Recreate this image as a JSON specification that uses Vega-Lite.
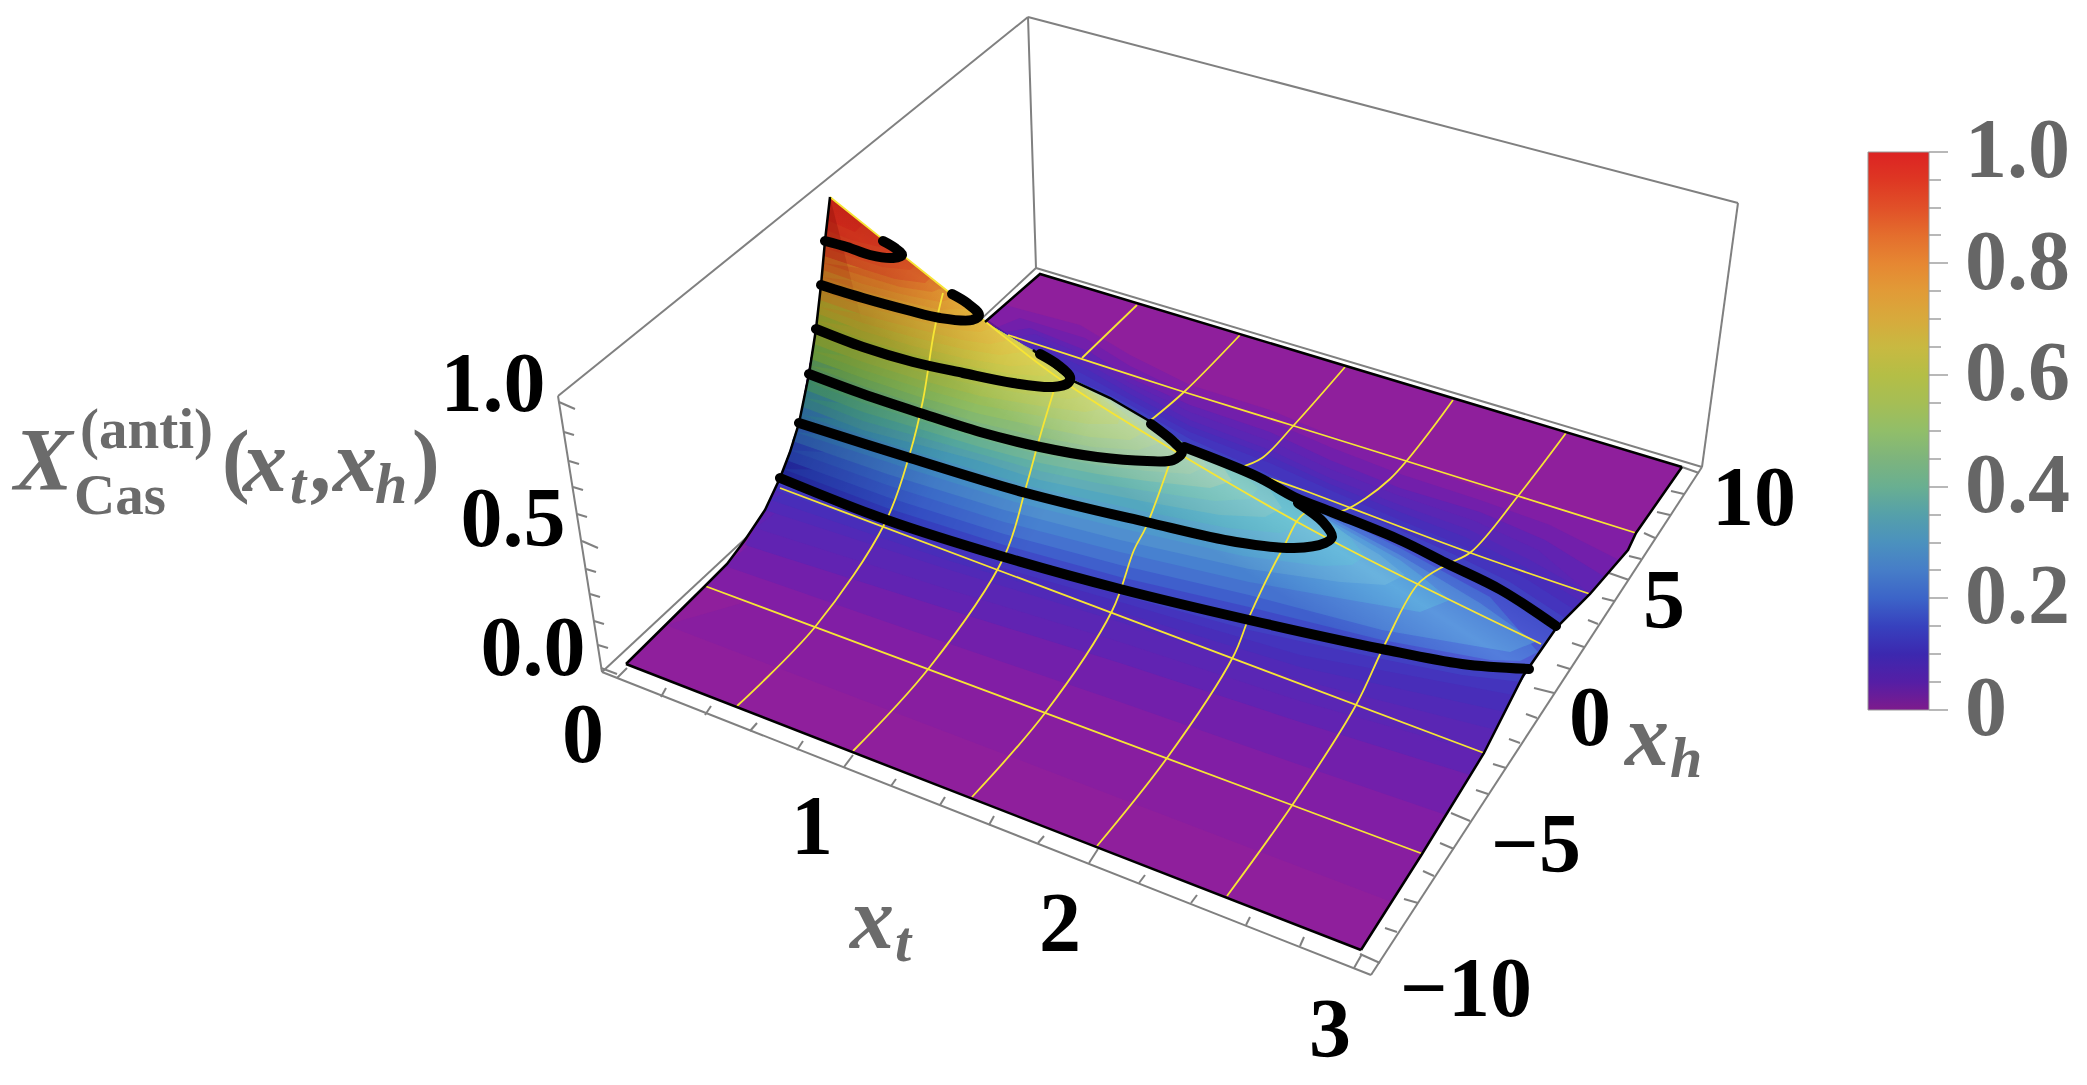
{
"$schema":"https://vega.github.io/schema/vega-lite/v6.json",
"width":2087,"height":1085,"padding":0,"autosize":{"type":"none"},"background":"white",
"config":{"view":{"stroke":null}},
"datasets":{
"box":[{"x":558,"y":396,"x2":1028,"y2":17},{"x":1028,"y":17,"x2":1738,"y2":203},{"x":1738,"y":203,"x2":1702,"y2":467},{"x":1028,"y":17,"x2":1036,"y2":268},{"x":1036,"y":268,"x2":1702,"y2":467},{"x":1702,"y":467,"x2":1371,"y2":975},{"x":1371,"y":975,"x2":602,"y2":672},{"x":602,"y":672,"x2":558,"y2":396},{"x":602,"y":672,"x2":1036,"y2":268},
{"x":559,"y":402,"x2":575,"y2":409},{"x":564,"y":432,"x2":574,"y2":435},{"x":569,"y":461,"x2":579,"y2":464},{"x":573,"y":487,"x2":583,"y2":490},{"x":577,"y":514,"x2":587,"y2":517},{"x":582,"y":541,"x2":598,"y2":548},{"x":586,"y":569,"x2":596,"y2":572},{"x":590,"y":594,"x2":600,"y2":597},{"x":594,"y":621,"x2":604,"y2":624},{"x":598,"y":645,"x2":608,"y2":648},{"x":601,"y":668,"x2":617,"y2":674},
{"x":617,"y":678,"x2":627,"y2":668},{"x":661,"y":697,"x2":666,"y2":688},{"x":705,"y":715,"x2":711,"y2":706},{"x":750,"y":731,"x2":757,"y2":723},{"x":797,"y":750,"x2":803,"y2":741},{"x":844,"y":767,"x2":853,"y2":755},{"x":891,"y":786,"x2":896,"y2":779},{"x":940,"y":805,"x2":945,"y2":797},{"x":989,"y":825,"x2":994,"y2":816},{"x":1038,"y":843,"x2":1044,"y2":836},{"x":1089,"y":863,"x2":1098,"y2":849},{"x":1139,"y":883,"x2":1145,"y2":875},{"x":1191,"y":903,"x2":1197,"y2":895},{"x":1246,"y":925,"x2":1250,"y2":917},{"x":1300,"y":946,"x2":1304,"y2":937},{"x":1354,"y":968,"x2":1362,"y2":954},
{"x":1380,"y":963,"x2":1360,"y2":954},{"x":1397,"y":932,"x2":1385,"y2":928},{"x":1418,"y":903,"x2":1404,"y2":899},{"x":1434,"y":876,"x2":1423,"y2":871},{"x":1454,"y":849,"x2":1440,"y2":843},{"x":1470,"y":821,"x2":1451,"y2":813},{"x":1488,"y":794,"x2":1476,"y2":790},{"x":1506,"y":768,"x2":1493,"y2":764},{"x":1520,"y":743,"x2":1509,"y2":739},{"x":1537,"y":718,"x2":1526,"y2":714},{"x":1554,"y":693,"x2":1534,"y2":688},{"x":1570,"y":669,"x2":1557,"y2":665},{"x":1584,"y":647,"x2":1572,"y2":643},{"x":1598,"y":624,"x2":1588,"y2":620},{"x":1614,"y":601,"x2":1602,"y2":598},{"x":1629,"y":580,"x2":1609,"y2":573},{"x":1641,"y":559,"x2":1629,"y2":556},{"x":1655,"y":538,"x2":1644,"y2":533},{"x":1670,"y":515,"x2":1657,"y2":512},{"x":1684,"y":494,"x2":1671,"y2":491},{"x":1699,"y":473,"x2":1682,"y2":467}],
"legendTicks":[{"x":1929,"y":152,"x2":1948,"y2":152},{"x":1929,"y":180,"x2":1941,"y2":180},{"x":1929,"y":208,"x2":1941,"y2":208},{"x":1929,"y":235,"x2":1941,"y2":235},{"x":1929,"y":263,"x2":1948,"y2":263},{"x":1929,"y":291,"x2":1941,"y2":291},{"x":1929,"y":319,"x2":1941,"y2":319},{"x":1929,"y":347,"x2":1941,"y2":347},{"x":1929,"y":375,"x2":1948,"y2":375},{"x":1929,"y":403,"x2":1941,"y2":403},{"x":1929,"y":431,"x2":1941,"y2":431},{"x":1929,"y":459,"x2":1941,"y2":459},{"x":1929,"y":487,"x2":1948,"y2":487},{"x":1929,"y":515,"x2":1941,"y2":515},{"x":1929,"y":543,"x2":1941,"y2":543},{"x":1929,"y":570,"x2":1941,"y2":570},{"x":1929,"y":598,"x2":1948,"y2":598},{"x":1929,"y":626,"x2":1941,"y2":626},{"x":1929,"y":654,"x2":1941,"y2":654},{"x":1929,"y":682,"x2":1941,"y2":682},{"x":1929,"y":710,"x2":1948,"y2":710}],
"surface":[
{"z":0,"x":626,"y":664},{"z":0,"x":1361,"y":950},{"z":0,"x":1422,"y":854},{"z":0,"x":1484,"y":753},{"z":0,"x":1523,"y":676},{"z":0,"x":1557,"y":627},{"z":0,"x":1590,"y":594},{"z":0,"x":1628,"y":550},{"z":0,"x":1636,"y":533},{"z":0,"x":1682,"y":467},{"z":0,"x":1040,"y":274},{"z":0,"x":985,"y":322},{"z":0,"x":950,"y":293},{"z":0,"x":880,"y":238},{"z":0,"x":830,"y":197},{"z":0,"x":825,"y":241},{"z":0,"x":816,"y":329},{"z":0,"x":799,"y":423},{"z":0,"x":790,"y":452},{"z":0,"x":780,"y":478},{"z":0,"x":765,"y":510},{"z":0,"x":745,"y":540},{"z":0,"x":727,"y":564},{"z":0,"x":705,"y":586},
{"z":0.01,"x":666,"y":625},{"z":0.01,"x":1392,"y":902},{"z":0.01,"x":1422,"y":854},{"z":0.01,"x":1484,"y":753},{"z":0.01,"x":1100,"y":500},
{"z":0.02,"x":705,"y":586},{"z":0.02,"x":1422,"y":854},{"z":0.02,"x":1484,"y":753},{"z":0.02,"x":1523,"y":676},{"z":0.02,"x":1557,"y":627},{"z":0.02,"x":1590,"y":594},{"z":0.02,"x":1628,"y":550},{"z":0.02,"x":1636,"y":533},{"z":0.02,"x":1560,"y":510},{"z":0.02,"x":1480,"y":488},{"z":0.02,"x":1400,"y":460},{"z":0.02,"x":1330,"y":435},{"z":0.02,"x":1270,"y":410},{"z":0.02,"x":1190,"y":385},{"z":0.02,"x":1130,"y":355},{"z":0.02,"x":1080,"y":325},{"z":0.02,"x":1005,"y":305},{"z":0.02,"x":985,"y":322},{"z":0.02,"x":950,"y":293},{"z":0.02,"x":880,"y":238},{"z":0.02,"x":830,"y":197},{"z":0.02,"x":825,"y":241},{"z":0.02,"x":816,"y":329},{"z":0.02,"x":799,"y":423},{"z":0.02,"x":790,"y":452},{"z":0.02,"x":780,"y":478},{"z":0.02,"x":765,"y":510},{"z":0.02,"x":745,"y":540},{"z":0.02,"x":727,"y":564},
{"z":0.035,"x":725,"y":566},{"z":0.035,"x":950,"y":644},{"z":0.035,"x":1120,"y":702},{"z":0.035,"x":1300,"y":765},{"z":0.035,"x":1446,"y":815},{"z":0.035,"x":1484,"y":753},{"z":0.035,"x":1523,"y":676},{"z":0.035,"x":1557,"y":627},{"z":0.035,"x":1590,"y":594},{"z":0.035,"x":1619,"y":560},{"z":0.035,"x":1550,"y":525},{"z":0.035,"x":1480,"y":500},{"z":0.035,"x":1400,"y":474},{"z":0.035,"x":1330,"y":447},{"z":0.035,"x":1270,"y":421},{"z":0.035,"x":1190,"y":395},{"z":0.035,"x":1130,"y":366},{"z":0.035,"x":1085,"y":338},{"z":0.035,"x":1020,"y":318},{"z":0.035,"x":995,"y":328},
{"z":0.05,"x":745,"y":545},{"z":0.05,"x":950,"y":610},{"z":0.05,"x":1120,"y":663},{"z":0.05,"x":1300,"y":722},{"z":0.05,"x":1470,"y":775},{"z":0.05,"x":1484,"y":753},{"z":0.05,"x":1523,"y":676},{"z":0.05,"x":1557,"y":627},{"z":0.05,"x":1590,"y":594},{"z":0.05,"x":1605,"y":577},{"z":0.05,"x":1545,"y":540},{"z":0.05,"x":1480,"y":512},{"z":0.05,"x":1400,"y":488},{"z":0.05,"x":1330,"y":460},{"z":0.05,"x":1270,"y":432},{"z":0.05,"x":1190,"y":405},{"z":0.05,"x":1130,"y":378},{"z":0.05,"x":1090,"y":352},{"z":0.05,"x":1030,"y":328},{"z":0.05,"x":1005,"y":332},{"z":0.05,"x":985,"y":322},{"z":0.05,"x":950,"y":293},{"z":0.05,"x":880,"y":238},{"z":0.05,"x":830,"y":197},{"z":0.05,"x":825,"y":241},{"z":0.05,"x":816,"y":329},{"z":0.05,"x":799,"y":423},{"z":0.05,"x":790,"y":452},{"z":0.05,"x":780,"y":478},{"z":0.05,"x":765,"y":510},
{"z":0.065,"x":755,"y":528},{"z":0.065,"x":950,"y":590},{"z":0.065,"x":1120,"y":642},{"z":0.065,"x":1300,"y":701},{"z":0.065,"x":1483,"y":753},{"z":0.065,"x":1523,"y":676},{"z":0.065,"x":1557,"y":627},{"z":0.065,"x":1590,"y":594},{"z":0.065,"x":1538,"y":550},{"z":0.065,"x":1475,"y":521},{"z":0.065,"x":1400,"y":496},{"z":0.065,"x":1330,"y":469},{"z":0.065,"x":1270,"y":441},{"z":0.065,"x":1190,"y":412},{"z":0.065,"x":1130,"y":383},{"z":0.065,"x":1088,"y":357},{"z":0.065,"x":1035,"y":334},{"z":0.065,"x":1012,"y":338},
{"z":0.08,"x":765,"y":510},{"z":0.08,"x":950,"y":570},{"z":0.08,"x":1120,"y":622},{"z":0.08,"x":1300,"y":680},{"z":0.08,"x":1496,"y":730},{"z":0.08,"x":1523,"y":676},{"z":0.08,"x":1557,"y":627},{"z":0.08,"x":1590,"y":594},{"z":0.08,"x":1530,"y":560},{"z":0.08,"x":1470,"y":530},{"z":0.08,"x":1400,"y":505},{"z":0.08,"x":1330,"y":478},{"z":0.08,"x":1270,"y":450},{"z":0.08,"x":1190,"y":420},{"z":0.08,"x":1130,"y":388},{"z":0.08,"x":1085,"y":362},{"z":0.08,"x":1040,"y":340},{"z":0.08,"x":1020,"y":343},{"z":0.08,"x":985,"y":322},{"z":0.08,"x":950,"y":293},{"z":0.08,"x":880,"y":238},{"z":0.08,"x":830,"y":197},{"z":0.08,"x":825,"y":241},{"z":0.08,"x":816,"y":329},{"z":0.08,"x":799,"y":423},{"z":0.08,"x":790,"y":452},{"z":0.08,"x":780,"y":478},
{"z":0.095,"x":771,"y":500},{"z":0.095,"x":950,"y":561},{"z":0.095,"x":1120,"y":612},{"z":0.095,"x":1300,"y":667},{"z":0.095,"x":1505,"y":712},{"z":0.095,"x":1523,"y":676},{"z":0.095,"x":1557,"y":627},{"z":0.095,"x":1582,"y":602},{"z":0.095,"x":1525,"y":567},{"z":0.095,"x":1465,"y":537},{"z":0.095,"x":1400,"y":512},{"z":0.095,"x":1330,"y":484},{"z":0.095,"x":1270,"y":456},{"z":0.095,"x":1190,"y":426},{"z":0.095,"x":1130,"y":394},{"z":0.095,"x":1085,"y":368},{"z":0.095,"x":1045,"y":349},{"z":0.095,"x":1025,"y":346},
{"z":0.11,"x":775,"y":490},{"z":0.11,"x":950,"y":553},{"z":0.11,"x":1120,"y":602},{"z":0.11,"x":1300,"y":655},{"z":0.11,"x":1513,"y":695},{"z":0.11,"x":1523,"y":676},{"z":0.11,"x":1557,"y":627},{"z":0.11,"x":1575,"y":610},{"z":0.11,"x":1520,"y":575},{"z":0.11,"x":1460,"y":545},{"z":0.11,"x":1400,"y":520},{"z":0.11,"x":1330,"y":490},{"z":0.11,"x":1270,"y":463},{"z":0.11,"x":1190,"y":432},{"z":0.11,"x":1130,"y":400},{"z":0.11,"x":1085,"y":375},{"z":0.11,"x":1050,"y":358},{"z":0.11,"x":1020,"y":343},{"z":0.11,"x":985,"y":322},{"z":0.11,"x":950,"y":293},{"z":0.11,"x":880,"y":238},{"z":0.11,"x":830,"y":197},{"z":0.11,"x":825,"y":241},{"z":0.11,"x":816,"y":329},{"z":0.11,"x":809,"y":374},{"z":0.11,"x":799,"y":423},{"z":0.11,"x":785,"y":470},
{"z":0.13,"x":778,"y":484},{"z":0.13,"x":887,"y":526},{"z":0.13,"x":1004,"y":563},{"z":0.13,"x":1120,"y":595},{"z":0.13,"x":1249,"y":630},{"z":0.13,"x":1382,"y":659},{"z":0.13,"x":1462,"y":675},{"z":0.13,"x":1521,"y":682},{"z":0.13,"x":1543,"y":646},{"z":0.13,"x":1565,"y":618},{"z":0.13,"x":1510,"y":582},{"z":0.13,"x":1453,"y":554},{"z":0.13,"x":1400,"y":530},{"z":0.13,"x":1332,"y":501},{"z":0.13,"x":1282,"y":480},{"z":0.13,"x":1190,"y":439},{"z":0.13,"x":1130,"y":405},{"z":0.13,"x":1100,"y":390},{"z":0.13,"x":1070,"y":378},
{"z":0.15,"x":780,"y":478},{"z":0.15,"x":887,"y":520},{"z":0.15,"x":1004,"y":557},{"z":0.15,"x":1120,"y":589},{"z":0.15,"x":1249,"y":620},{"z":0.15,"x":1382,"y":649},{"z":0.15,"x":1462,"y":664},{"z":0.15,"x":1529,"y":669},{"z":0.15,"x":1543,"y":646},{"z":0.15,"x":1556,"y":626},{"z":0.15,"x":1501,"y":590},{"z":0.15,"x":1446,"y":563},{"z":0.15,"x":1400,"y":540},{"z":0.15,"x":1334,"y":513},{"z":0.15,"x":1294,"y":497},{"z":0.15,"x":1258,"y":477},{"z":0.15,"x":1184,"y":447},{"z":0.15,"x":1151,"y":422},{"z":0.15,"x":1110,"y":398},{"z":0.15,"x":1070,"y":378},{"z":0.15,"x":1020,"y":343},{"z":0.15,"x":985,"y":322},{"z":0.15,"x":950,"y":293},{"z":0.15,"x":880,"y":238},{"z":0.15,"x":830,"y":197},{"z":0.15,"x":825,"y":241},{"z":0.15,"x":816,"y":329},{"z":0.15,"x":809,"y":374},{"z":0.15,"x":799,"y":423},
{"z":0.175,"x":783,"y":469},{"z":0.175,"x":887,"y":508},{"z":0.175,"x":1004,"y":545},{"z":0.175,"x":1120,"y":577},{"z":0.175,"x":1249,"y":607},{"z":0.175,"x":1382,"y":640},{"z":0.175,"x":1490,"y":660},{"z":0.175,"x":1520,"y":661},{"z":0.175,"x":1538,"y":652},{"z":0.175,"x":1490,"y":597},{"z":0.175,"x":1400,"y":548},{"z":0.175,"x":1334,"y":516},{"z":0.175,"x":1294,"y":498},{"z":0.175,"x":1258,"y":477},
{"z":0.2,"x":786,"y":460},{"z":0.2,"x":887,"y":497},{"z":0.2,"x":1004,"y":534},{"z":0.2,"x":1120,"y":565},{"z":0.2,"x":1249,"y":595},{"z":0.2,"x":1382,"y":630},{"z":0.2,"x":1510,"y":652},{"z":0.2,"x":1535,"y":642},{"z":0.2,"x":1480,"y":603},{"z":0.2,"x":1400,"y":555},{"z":0.2,"x":1334,"y":520},{"z":0.2,"x":1294,"y":500},{"z":0.2,"x":1258,"y":477},{"z":0.2,"x":1184,"y":447},{"z":0.2,"x":1151,"y":422},{"z":0.2,"x":1110,"y":398},{"z":0.2,"x":1070,"y":378},{"z":0.2,"x":1020,"y":343},{"z":0.2,"x":985,"y":322},{"z":0.2,"x":950,"y":293},{"z":0.2,"x":880,"y":238},{"z":0.2,"x":830,"y":197},{"z":0.2,"x":825,"y":241},{"z":0.2,"x":816,"y":329},{"z":0.2,"x":809,"y":374},{"z":0.2,"x":799,"y":423},{"z":0.2,"x":790,"y":452},
{"z":0.225,"x":789,"y":450},{"z":0.225,"x":887,"y":485},{"z":0.225,"x":1004,"y":522},{"z":0.225,"x":1120,"y":552},{"z":0.225,"x":1249,"y":582},{"z":0.225,"x":1350,"y":600},{"z":0.225,"x":1420,"y":612},{"z":0.225,"x":1450,"y":600},{"z":0.225,"x":1420,"y":575},{"z":0.225,"x":1400,"y":560},{"z":0.225,"x":1334,"y":523},{"z":0.225,"x":1294,"y":501},{"z":0.225,"x":1258,"y":477},
{"z":0.25,"x":792,"y":441},{"z":0.25,"x":887,"y":474},{"z":0.25,"x":1004,"y":510},{"z":0.25,"x":1120,"y":540},{"z":0.25,"x":1249,"y":569},{"z":0.25,"x":1340,"y":582},{"z":0.25,"x":1385,"y":585},{"z":0.25,"x":1405,"y":575},{"z":0.25,"x":1380,"y":555},{"z":0.25,"x":1334,"y":527},{"z":0.25,"x":1294,"y":503},{"z":0.25,"x":1258,"y":477},{"z":0.25,"x":1184,"y":447},{"z":0.25,"x":1151,"y":422},{"z":0.25,"x":1110,"y":398},{"z":0.25,"x":1070,"y":378},{"z":0.25,"x":1020,"y":343},{"z":0.25,"x":985,"y":322},{"z":0.25,"x":950,"y":293},{"z":0.25,"x":880,"y":238},{"z":0.25,"x":830,"y":197},{"z":0.25,"x":825,"y":241},{"z":0.25,"x":816,"y":329},{"z":0.25,"x":809,"y":374},{"z":0.25,"x":799,"y":423},
{"z":0.275,"x":795,"y":432},{"z":0.275,"x":900,"y":466},{"z":0.275,"x":1015,"y":502},{"z":0.275,"x":1133,"y":531},{"z":0.275,"x":1243,"y":556},{"z":0.275,"x":1322,"y":566},{"z":0.275,"x":1352,"y":565},{"z":0.275,"x":1365,"y":556},{"z":0.275,"x":1350,"y":537},{"z":0.275,"x":1320,"y":515},{"z":0.275,"x":1294,"y":500},{"z":0.275,"x":1258,"y":477},
{"z":0.3,"x":799,"y":423},{"z":0.3,"x":910,"y":458},{"z":0.3,"x":1026,"y":493},{"z":0.3,"x":1146,"y":522},{"z":0.3,"x":1236,"y":542},{"z":0.3,"x":1294,"y":548},{"z":0.3,"x":1325,"y":543},{"z":0.3,"x":1332,"y":537},{"z":0.3,"x":1323,"y":522},{"z":0.3,"x":1298,"y":503},{"z":0.3,"x":1258,"y":477},{"z":0.3,"x":1184,"y":447},{"z":0.3,"x":1151,"y":422},{"z":0.3,"x":1110,"y":398},{"z":0.3,"x":1070,"y":378},{"z":0.3,"x":1020,"y":343},{"z":0.3,"x":985,"y":322},{"z":0.3,"x":950,"y":293},{"z":0.3,"x":880,"y":238},{"z":0.3,"x":830,"y":197},{"z":0.3,"x":825,"y":241},{"z":0.3,"x":816,"y":329},{"z":0.3,"x":809,"y":374},
{"z":0.325,"x":801,"y":415},{"z":0.325,"x":915,"y":452},{"z":0.325,"x":1033,"y":487},{"z":0.325,"x":1147,"y":512},{"z":0.325,"x":1228,"y":528},{"z":0.325,"x":1280,"y":533},{"z":0.325,"x":1307,"y":523},{"z":0.325,"x":1297,"y":506},{"z":0.325,"x":1270,"y":483},{"z":0.325,"x":1250,"y":474},
{"z":0.35,"x":803,"y":407},{"z":0.35,"x":863,"y":430},{"z":0.35,"x":920,"y":445},{"z":0.35,"x":980,"y":461},{"z":0.35,"x":1040,"y":480},{"z":0.35,"x":1097,"y":492},{"z":0.35,"x":1147,"y":502},{"z":0.35,"x":1220,"y":515},{"z":0.35,"x":1265,"y":517},{"z":0.35,"x":1282,"y":508},{"z":0.35,"x":1270,"y":490},{"z":0.35,"x":1240,"y":470},{"z":0.35,"x":1184,"y":447},{"z":0.35,"x":1151,"y":422},{"z":0.35,"x":1110,"y":398},{"z":0.35,"x":1070,"y":378},{"z":0.35,"x":1020,"y":343},{"z":0.35,"x":985,"y":322},{"z":0.35,"x":950,"y":293},{"z":0.35,"x":880,"y":238},{"z":0.35,"x":830,"y":197},{"z":0.35,"x":825,"y":241},{"z":0.35,"x":816,"y":329},{"z":0.35,"x":809,"y":374},
{"z":0.375,"x":805,"y":398},{"z":0.375,"x":863,"y":421},{"z":0.375,"x":920,"y":437},{"z":0.375,"x":980,"y":454},{"z":0.375,"x":1040,"y":471},{"z":0.375,"x":1097,"y":483},{"z":0.375,"x":1147,"y":491},{"z":0.375,"x":1215,"y":501},{"z":0.375,"x":1250,"y":499},{"z":0.375,"x":1258,"y":488},{"z":0.375,"x":1246,"y":477},{"z":0.375,"x":1220,"y":460},
{"z":0.4,"x":806,"y":390},{"z":0.4,"x":863,"y":412},{"z":0.4,"x":920,"y":429},{"z":0.4,"x":980,"y":447},{"z":0.4,"x":1040,"y":463},{"z":0.4,"x":1097,"y":474},{"z":0.4,"x":1147,"y":481},{"z":0.4,"x":1210,"y":488},{"z":0.4,"x":1232,"y":481},{"z":0.4,"x":1222,"y":465},{"z":0.4,"x":1195,"y":452},{"z":0.4,"x":1151,"y":422},{"z":0.4,"x":1110,"y":398},{"z":0.4,"x":1070,"y":378},{"z":0.4,"x":1020,"y":343},{"z":0.4,"x":985,"y":322},{"z":0.4,"x":950,"y":293},{"z":0.4,"x":880,"y":238},{"z":0.4,"x":830,"y":197},{"z":0.4,"x":825,"y":241},{"z":0.4,"x":816,"y":329},{"z":0.4,"x":809,"y":374},
{"z":0.425,"x":808,"y":382},{"z":0.425,"x":863,"y":403},{"z":0.425,"x":920,"y":421},{"z":0.425,"x":980,"y":439},{"z":0.425,"x":1040,"y":455},{"z":0.425,"x":1097,"y":465},{"z":0.425,"x":1147,"y":471},{"z":0.425,"x":1190,"y":474},{"z":0.425,"x":1207,"y":466},{"z":0.425,"x":1198,"y":454},{"z":0.425,"x":1173,"y":435},
{"z":0.45,"x":809,"y":374},{"z":0.45,"x":863,"y":394},{"z":0.45,"x":920,"y":413},{"z":0.45,"x":980,"y":432},{"z":0.45,"x":1040,"y":447},{"z":0.45,"x":1097,"y":457},{"z":0.45,"x":1147,"y":461},{"z":0.45,"x":1173,"y":460},{"z":0.45,"x":1182,"y":452},{"z":0.45,"x":1175,"y":443},{"z":0.45,"x":1151,"y":422},{"z":0.45,"x":1110,"y":398},{"z":0.45,"x":1070,"y":378},{"z":0.45,"x":1020,"y":343},{"z":0.45,"x":985,"y":322},{"z":0.45,"x":950,"y":293},{"z":0.45,"x":880,"y":238},{"z":0.45,"x":830,"y":197},{"z":0.45,"x":825,"y":241},{"z":0.45,"x":816,"y":329},
{"z":0.475,"x":810,"y":366},{"z":0.475,"x":863,"y":386},{"z":0.475,"x":920,"y":405},{"z":0.475,"x":980,"y":423},{"z":0.475,"x":1040,"y":437},{"z":0.475,"x":1093,"y":447},{"z":0.475,"x":1138,"y":450},{"z":0.475,"x":1163,"y":442},{"z":0.475,"x":1152,"y":430},{"z":0.475,"x":1128,"y":410},
{"z":0.5,"x":811,"y":359},{"z":0.5,"x":863,"y":378},{"z":0.5,"x":920,"y":397},{"z":0.5,"x":980,"y":414},{"z":0.5,"x":1040,"y":427},{"z":0.5,"x":1090,"y":437},{"z":0.5,"x":1130,"y":440},{"z":0.5,"x":1145,"y":432},{"z":0.5,"x":1130,"y":418},{"z":0.5,"x":1105,"y":397},{"z":0.5,"x":1070,"y":378},{"z":0.5,"x":1020,"y":343},{"z":0.5,"x":985,"y":322},{"z":0.5,"x":950,"y":293},{"z":0.5,"x":880,"y":238},{"z":0.5,"x":830,"y":197},{"z":0.5,"x":825,"y":241},{"z":0.5,"x":821,"y":285},{"z":0.5,"x":816,"y":329},
{"z":0.525,"x":812,"y":351},{"z":0.525,"x":863,"y":370},{"z":0.525,"x":920,"y":388},{"z":0.525,"x":980,"y":405},{"z":0.525,"x":1040,"y":416},{"z":0.525,"x":1088,"y":424},{"z":0.525,"x":1118,"y":424},{"z":0.525,"x":1120,"y":414},{"z":0.525,"x":1100,"y":396},
{"z":0.55,"x":814,"y":344},{"z":0.55,"x":863,"y":362},{"z":0.55,"x":920,"y":380},{"z":0.55,"x":980,"y":396},{"z":0.55,"x":1040,"y":406},{"z":0.55,"x":1085,"y":412},{"z":0.55,"x":1105,"y":408},{"z":0.55,"x":1095,"y":395},{"z":0.55,"x":1070,"y":378},{"z":0.55,"x":1020,"y":343},{"z":0.55,"x":985,"y":322},{"z":0.55,"x":950,"y":293},{"z":0.55,"x":880,"y":238},{"z":0.55,"x":830,"y":197},{"z":0.55,"x":825,"y":241},{"z":0.55,"x":821,"y":285},
{"z":0.575,"x":815,"y":336},{"z":0.575,"x":863,"y":354},{"z":0.575,"x":916,"y":371},{"z":0.575,"x":971,"y":384},{"z":0.575,"x":1026,"y":394},{"z":0.575,"x":1069,"y":399},{"z":0.575,"x":1087,"y":395},{"z":0.575,"x":1082,"y":385},{"z":0.575,"x":1060,"y":371},
{"z":0.6,"x":816,"y":329},{"z":0.6,"x":863,"y":347},{"z":0.6,"x":913,"y":362},{"z":0.6,"x":963,"y":373},{"z":0.6,"x":1013,"y":383},{"z":0.6,"x":1053,"y":387},{"z":0.6,"x":1068,"y":383},{"z":0.6,"x":1070,"y":377},{"z":0.6,"x":1058,"y":365},{"z":0.6,"x":1033,"y":350},{"z":0.6,"x":1020,"y":343},{"z":0.6,"x":985,"y":322},{"z":0.6,"x":950,"y":293},{"z":0.6,"x":880,"y":238},{"z":0.6,"x":830,"y":197},{"z":0.6,"x":825,"y":241},{"z":0.6,"x":821,"y":285},
{"z":0.625,"x":817,"y":321},{"z":0.625,"x":863,"y":339},{"z":0.625,"x":913,"y":354},{"z":0.625,"x":963,"y":365},{"z":0.625,"x":1011,"y":374},{"z":0.625,"x":1044,"y":376},{"z":0.625,"x":1054,"y":370},{"z":0.625,"x":1040,"y":358},
{"z":0.65,"x":819,"y":314},{"z":0.65,"x":863,"y":331},{"z":0.65,"x":913,"y":346},{"z":0.65,"x":963,"y":358},{"z":0.65,"x":1010,"y":366},{"z":0.65,"x":1035,"y":365},{"z":0.65,"x":1040,"y":358},{"z":0.65,"x":1020,"y":343},{"z":0.65,"x":985,"y":322},{"z":0.65,"x":950,"y":293},{"z":0.65,"x":880,"y":238},{"z":0.65,"x":830,"y":197},{"z":0.65,"x":825,"y":241},{"z":0.65,"x":821,"y":285},
{"z":0.675,"x":819,"y":307},{"z":0.675,"x":863,"y":323},{"z":0.675,"x":913,"y":337},{"z":0.675,"x":963,"y":349},{"z":0.675,"x":1000,"y":355},{"z":0.675,"x":1022,"y":352},{"z":0.675,"x":1012,"y":340},
{"z":0.7,"x":820,"y":300},{"z":0.7,"x":863,"y":315},{"z":0.7,"x":913,"y":328},{"z":0.7,"x":963,"y":340},{"z":0.7,"x":990,"y":344},{"z":0.7,"x":1010,"y":340},{"z":0.7,"x":985,"y":322},{"z":0.7,"x":950,"y":293},{"z":0.7,"x":880,"y":238},{"z":0.7,"x":830,"y":197},{"z":0.7,"x":825,"y":241},
{"z":0.725,"x":820,"y":292},{"z":0.725,"x":863,"y":306},{"z":0.725,"x":910,"y":319},{"z":0.725,"x":950,"y":329},{"z":0.725,"x":980,"y":332},{"z":0.725,"x":994,"y":327},{"z":0.725,"x":975,"y":313},
{"z":0.75,"x":821,"y":285},{"z":0.75,"x":863,"y":298},{"z":0.75,"x":907,"y":310},{"z":0.75,"x":940,"y":318},{"z":0.75,"x":972,"y":320},{"z":0.75,"x":979,"y":315},{"z":0.75,"x":967,"y":303},{"z":0.75,"x":950,"y":293},{"z":0.75,"x":880,"y":238},{"z":0.75,"x":830,"y":197},{"z":0.75,"x":825,"y":241},
{"z":0.775,"x":822,"y":277},{"z":0.775,"x":863,"y":291},{"z":0.775,"x":906,"y":302},{"z":0.775,"x":940,"y":310},{"z":0.775,"x":965,"y":309},{"z":0.775,"x":967,"y":303},{"z":0.775,"x":950,"y":293},
{"z":0.8,"x":823,"y":270},{"z":0.8,"x":863,"y":284},{"z":0.8,"x":905,"y":295},{"z":0.8,"x":940,"y":302},{"z":0.8,"x":955,"y":298},{"z":0.8,"x":950,"y":293},{"z":0.8,"x":880,"y":238},{"z":0.8,"x":830,"y":197},{"z":0.8,"x":825,"y":241},
{"z":0.825,"x":823,"y":263},{"z":0.825,"x":863,"y":276},{"z":0.825,"x":900,"y":287},{"z":0.825,"x":932,"y":292},{"z":0.825,"x":942,"y":288},{"z":0.825,"x":930,"y":278},
{"z":0.85,"x":824,"y":256},{"z":0.85,"x":863,"y":269},{"z":0.85,"x":895,"y":279},{"z":0.85,"x":925,"y":283},{"z":0.85,"x":930,"y":278},{"z":0.85,"x":920,"y":270},{"z":0.85,"x":880,"y":238},{"z":0.85,"x":830,"y":197},
{"z":0.875,"x":825,"y":248},{"z":0.875,"x":855,"y":258},{"z":0.875,"x":882,"y":267},{"z":0.875,"x":910,"y":270},{"z":0.875,"x":915,"y":266},{"z":0.875,"x":900,"y":254},
{"z":0.9,"x":825,"y":241},{"z":0.9,"x":847,"y":247},{"z":0.9,"x":870,"y":255},{"z":0.9,"x":893,"y":258},{"z":0.9,"x":902,"y":255},{"z":0.9,"x":883,"y":241},{"z":0.9,"x":880,"y":238},{"z":0.9,"x":830,"y":197},
{"z":0.925,"x":826,"y":230},{"z":0.925,"x":851,"y":240},{"z":0.925,"x":880,"y":247},{"z":0.925,"x":882,"y":240},{"z":0.925,"x":870,"y":230},{"z":0.925,"x":830,"y":197},
{"z":0.95,"x":827,"y":220},{"z":0.95,"x":855,"y":232},{"z":0.95,"x":862,"y":225},{"z":0.95,"x":830,"y":197}
],
"shadeDark":[{"x":830,"y":197},{"x":950,"y":293},{"x":1070,"y":378},{"x":1184,"y":447},{"x":1150,"y":592},{"x":1120,"y":589},{"x":1004,"y":557},{"x":887,"y":520},{"x":780,"y":478},{"x":790,"y":452},{"x":799,"y":423},{"x":809,"y":374},{"x":816,"y":329},{"x":821,"y":285},{"x":825,"y":241}],
"shadeLight":[{"x":830,"y":197},{"x":880,"y":238},{"x":950,"y":293},{"x":985,"y":322},{"x":1020,"y":343},{"x":1070,"y":378},{"x":1110,"y":398},{"x":1151,"y":422},{"x":1184,"y":447},{"x":1258,"y":477},{"x":1294,"y":497},{"x":1334,"y":513},{"x":1400,"y":540},{"x":1446,"y":563},{"x":1501,"y":590},{"x":1556,"y":626},{"x":1529,"y":669},{"x":1462,"y":664},{"x":1382,"y":649},{"x":1249,"y":620},{"x":1120,"y":589},{"x":1004,"y":557},{"x":887,"y":420}],
"grid":[
{"g":"h1","x":705,"y":586},{"g":"h1","x":1423,"y":854},
{"g":"h2","x":780,"y":488},{"g":"h2","x":1484,"y":753},
{"g":"h3","x":1008,"y":335},{"g":"h3","x":1184,"y":392},{"g":"h3","x":1291,"y":425},{"g":"h3","x":1403,"y":460},{"g":"h3","x":1518,"y":496},{"g":"h3","x":1636,"y":533},
{"g":"h4","x":1245,"y":470},{"g":"h4","x":1300,"y":489},{"g":"h4","x":1468,"y":552},{"g":"h4","x":1590,"y":594},
{"g":"ridge","x":830,"y":197},{"g":"ridge","x":950,"y":293},{"g":"ridge","x":1057,"y":377},{"g":"ridge","x":1173,"y":450},{"g":"ridge","x":1325,"y":537},{"g":"ridge","x":1541,"y":644},
{"g":"t1a","x":737,"y":706},{"g":"t1a","x":815,"y":627},{"g":"t1a","x":885,"y":523},{"g":"t1a","x":910,"y":453},{"g":"t1a","x":923,"y":400},{"g":"t1a","x":934,"y":332},{"g":"t1a","x":943,"y":293},
{"g":"t1b","x":1137,"y":305},{"g":"t1b","x":1082,"y":358},
{"g":"t2a","x":853,"y":751},{"g":"t2a","x":929,"y":668},{"g":"t2a","x":1004,"y":557},{"g":"t2a","x":1026,"y":487},{"g":"t2a","x":1041,"y":433},{"g":"t2a","x":1055,"y":387},
{"g":"t2b","x":1240,"y":335},{"g":"t2b","x":1184,"y":392},{"g":"t2b","x":1151,"y":420},
{"g":"t3a","x":972,"y":797},{"g":"t3a","x":1045,"y":713},{"g":"t3a","x":1112,"y":611},{"g":"t3a","x":1134,"y":550},{"g":"t3a","x":1146,"y":527},{"g":"t3a","x":1169,"y":465},
{"g":"t3b","x":1345,"y":367},{"g":"t3b","x":1294,"y":425},{"g":"t3b","x":1262,"y":458},{"g":"t3b","x":1238,"y":468},
{"g":"t4","x":1097,"y":846},{"g":"t4","x":1167,"y":758},{"g":"t4","x":1233,"y":657},{"g":"t4","x":1250,"y":615},{"g":"t4","x":1282,"y":550},{"g":"t4","x":1305,"y":513},{"g":"t4","x":1334,"y":512},{"g":"t4","x":1345,"y":510},{"g":"t4","x":1390,"y":479},{"g":"t4","x":1453,"y":400},
{"g":"t5","x":1227,"y":896},{"g":"t5","x":1293,"y":804},{"g":"t5","x":1356,"y":705},{"g":"t5","x":1385,"y":644},{"g":"t5","x":1418,"y":584},{"g":"t5","x":1446,"y":565},{"g":"t5","x":1471,"y":552},{"g":"t5","x":1518,"y":496},{"g":"t5","x":1566,"y":433}
],
"edges":[
{"g":"e1","x":830,"y":197},{"g":"e1","x":825,"y":241},{"g":"e1","x":821,"y":285},{"g":"e1","x":816,"y":329},{"g":"e1","x":809,"y":374},{"g":"e1","x":799,"y":423},{"g":"e1","x":790,"y":452},{"g":"e1","x":780,"y":478},{"g":"e1","x":765,"y":510},{"g":"e1","x":745,"y":540},{"g":"e1","x":727,"y":564},{"g":"e1","x":705,"y":586},{"g":"e1","x":626,"y":664},
{"g":"e2","x":626,"y":664},{"g":"e2","x":1361,"y":950},
{"g":"e3","x":1361,"y":950},{"g":"e3","x":1422,"y":854},{"g":"e3","x":1484,"y":753},{"g":"e3","x":1523,"y":676},{"g":"e3","x":1557,"y":627},{"g":"e3","x":1590,"y":594},{"g":"e3","x":1628,"y":550},{"g":"e3","x":1636,"y":533},{"g":"e3","x":1682,"y":467},
{"g":"e4","x":1682,"y":467},{"g":"e4","x":1040,"y":274},{"g":"e4","x":985,"y":322},
{"g":"e5","x":1033,"y":350},{"g":"e5","x":1071,"y":380},{"g":"e5","x":1110,"y":398},{"g":"e5","x":1151,"y":422},{"g":"e5","x":1184,"y":447}
],
"contours":[
{"g":"b6","x":825,"y":241},{"g":"b6","x":847,"y":247},{"g":"b6","x":870,"y":255},{"g":"b6","x":893,"y":258},{"g":"b6","x":902,"y":255},{"g":"b6","x":895,"y":248},{"g":"b6","x":883,"y":241},
{"g":"b5","x":821,"y":285},{"g":"b5","x":863,"y":298},{"g":"b5","x":907,"y":310},{"g":"b5","x":940,"y":318},{"g":"b5","x":972,"y":320},{"g":"b5","x":979,"y":315},{"g":"b5","x":967,"y":303},{"g":"b5","x":952,"y":294},
{"g":"b4","x":816,"y":329},{"g":"b4","x":863,"y":347},{"g":"b4","x":913,"y":362},{"g":"b4","x":963,"y":373},{"g":"b4","x":1013,"y":383},{"g":"b4","x":1053,"y":387},{"g":"b4","x":1068,"y":383},{"g":"b4","x":1070,"y":377},{"g":"b4","x":1058,"y":365},{"g":"b4","x":1040,"y":354},
{"g":"b3","x":809,"y":374},{"g":"b3","x":863,"y":394},{"g":"b3","x":920,"y":413},{"g":"b3","x":980,"y":432},{"g":"b3","x":1040,"y":447},{"g":"b3","x":1097,"y":457},{"g":"b3","x":1147,"y":461},{"g":"b3","x":1173,"y":460},{"g":"b3","x":1182,"y":452},{"g":"b3","x":1175,"y":443},{"g":"b3","x":1151,"y":424},
{"g":"b2","x":799,"y":423},{"g":"b2","x":910,"y":458},{"g":"b2","x":1026,"y":493},{"g":"b2","x":1146,"y":522},{"g":"b2","x":1236,"y":542},{"g":"b2","x":1294,"y":548},{"g":"b2","x":1325,"y":543},{"g":"b2","x":1332,"y":537},{"g":"b2","x":1323,"y":522},{"g":"b2","x":1298,"y":503},
{"g":"b1","x":780,"y":478},{"g":"b1","x":887,"y":520},{"g":"b1","x":1004,"y":557},{"g":"b1","x":1120,"y":589},{"g":"b1","x":1249,"y":620},{"g":"b1","x":1382,"y":649},{"g":"b1","x":1462,"y":664},{"g":"b1","x":1529,"y":669},
{"g":"b0","x":1184,"y":447},{"g":"b0","x":1258,"y":477},{"g":"b0","x":1294,"y":497},{"g":"b0","x":1334,"y":513},{"g":"b0","x":1400,"y":540},{"g":"b0","x":1446,"y":563},{"g":"b0","x":1501,"y":590},{"g":"b0","x":1556,"y":626}
]
},
"encoding":{
"x":{"field":"x","type":"quantitative","scale":{"domain":[0,2087],"nice":false,"zero":false},"axis":null},
"y":{"field":"y","type":"quantitative","scale":{"domain":[0,1085],"reverse":true,"nice":false,"zero":false},"axis":null}
},
"layer":[
{"data":{"name":"box"},"mark":{"type":"rule","stroke":"#808080","strokeWidth":2},"encoding":{"x2":{"field":"x2"},"y2":{"field":"y2"}}},
{"data":{"name":"legendTicks"},"mark":{"type":"rule","stroke":"#b8b8b8","strokeWidth":2},"encoding":{"x2":{"field":"x2"},"y2":{"field":"y2"}}},
{"data":{"name":"surface"},"transform":[{"window":[{"op":"row_number","as":"n"}]}],"mark":{"type":"line","stroke":null,"interpolate":"linear"},
"encoding":{"detail":{"field":"z"},"order":{"field":"n"},
"fill":{"field":"z","type":"quantitative","scale":{"domain":[0,0.05,0.1,0.15,0.2,0.25,0.3,0.35,0.4,0.45,0.5,0.55,0.6,0.65,0.7,0.75,0.8,0.85,0.9,0.95,1],"range":["#7d1b8c","#551ea5","#3c28af","#3741be","#3c64c8","#467dc8","#4b91be","#55a0aa","#69af91","#7db47d","#91be69","#a5be55","#b4be46","#c8b941","#d7aa3c","#e19b37","#e68732","#e46e2d","#e15028","#de3723","#dc2323"]},
"legend":{"type":"gradient","orient":"none","legendX":1868,"legendY":152,"title":null,"gradientLength":558,"gradientThickness":61,"gradientStrokeColor":"#999999","gradientStrokeWidth":1,"values":[0.0001,0.2,0.4,0.6,0.8,0.9999],"labelExpr":"datum.value<0.01?'0':format(datum.value,'.1f')","labelFont":"Liberation Serif","labelFontWeight":"bold","labelFontSize":84,"labelColor":"#666666","labelOffset":36,"labelOverlap":false,"padding":0}}}},
{"data":{"name":"surface"},"transform":[{"filter":"datum.z==0"},{"window":[{"op":"row_number","as":"n"}]}],"mark":{"type":"line","stroke":null,"blend":"overlay","fill":"#ffffff","fillOpacity":0.14},"encoding":{"order":{"field":"n"}}},
{"data":{"name":"shadeDark"},"transform":[{"window":[{"op":"row_number","as":"n"}]}],"mark":{"type":"line","stroke":null,"blend":"overlay","fill":{"gradient":"linear","x1":0,"y1":0,"x2":1,"y2":0.5,"stops":[{"offset":0,"color":"rgba(0,0,0,0.5)"},{"offset":0.3,"color":"rgba(0,0,0,0.38)"},{"offset":0.5,"color":"rgba(0,0,0,0.25)"},{"offset":0.85,"color":"rgba(0,0,0,0)"},{"offset":1,"color":"rgba(0,0,0,0)"}]}},"encoding":{"order":{"field":"n"}}},
{"data":{"name":"shadeDark"},"transform":[{"window":[{"op":"row_number","as":"n"}]}],"mark":{"type":"line","stroke":null,"fill":{"gradient":"linear","x1":0,"y1":0,"x2":1,"y2":0.5,"stops":[{"offset":0,"color":"rgba(0,0,0,0.18)"},{"offset":0.3,"color":"rgba(0,0,0,0.14)"},{"offset":0.6,"color":"rgba(0,0,0,0)"},{"offset":1,"color":"rgba(0,0,0,0)"}]}},"encoding":{"order":{"field":"n"}}},
{"data":{"name":"shadeLight"},"transform":[{"window":[{"op":"row_number","as":"n"}]}],"mark":{"type":"line","stroke":null,"blend":"overlay","fill":{"gradient":"linear","x1":0.1,"y1":0.9,"x2":0.9,"y2":0.1,"stops":[{"offset":0,"color":"rgba(255,255,255,0)"},{"offset":0.36,"color":"rgba(255,255,255,0)"},{"offset":0.47,"color":"rgba(255,255,255,0.32)"},{"offset":0.57,"color":"rgba(255,255,255,0)"},{"offset":1,"color":"rgba(255,255,255,0)"}]}},"encoding":{"order":{"field":"n"}}},
{"data":{"name":"grid"},"transform":[{"window":[{"op":"row_number","as":"n"}]}],"mark":{"type":"line","stroke":"#f7e534","strokeWidth":1.8,"interpolate":"catmull-rom"},"encoding":{"detail":{"field":"g"},"order":{"field":"n"}}},
{"data":{"name":"edges"},"transform":[{"window":[{"op":"row_number","as":"n"}]}],"mark":{"type":"line","stroke":"#000000","strokeWidth":2.5,"interpolate":"linear"},"encoding":{"detail":{"field":"g"},"order":{"field":"n"}}},
{"data":{"name":"contours"},"transform":[{"window":[{"op":"row_number","as":"n"}]}],"mark":{"type":"line","stroke":"#000000","strokeWidth":10,"strokeCap":"round","strokeJoin":"round","interpolate":"catmull-rom"},"encoding":{"detail":{"field":"g"},"order":{"field":"n"}}},
{"data":{"values":[{"t":"1.0","x":493,"y":411},{"t":"0.5","x":513,"y":546},{"t":"0.0","x":533,"y":675},{"t":"0","x":583,"y":762},{"t":"1","x":812,"y":854},{"t":"2","x":1060,"y":951},{"t":"3","x":1330,"y":1057},{"t":"−10","x":1466,"y":1016},{"t":"−5","x":1536,"y":872},{"t":"0","x":1590,"y":745},{"t":"5","x":1664,"y":628},{"t":"10","x":1754,"y":525}]},"mark":{"type":"text","font":"Liberation Serif","fontWeight":"bold","fontSize":84,"color":"#000000","align":"center","baseline":"alphabetic"},"encoding":{"text":{"field":"t"}}},
{"data":{"values":[{"t":"(anti)","x":80,"y":448},{"t":"Cas","x":74,"y":514}]},"mark":{"type":"text","font":"Liberation Serif","fontWeight":"bold","fontSize":57,"color":"#6b6b6b","align":"left","baseline":"alphabetic"},"encoding":{"text":{"field":"t"}}},
{"data":{"values":[{"t":"(","x":222,"y":487},{"t":")","x":412,"y":487}]},"mark":{"type":"text","font":"Liberation Serif","fontWeight":"bold","fontSize":83,"color":"#6b6b6b","align":"left","baseline":"alphabetic"},"encoding":{"text":{"field":"t"}}},
{"data":{"values":[{"t":"X","x":14,"y":489},{"t":"x","x":243,"y":491},{"t":",","x":313,"y":491},{"t":"x","x":333,"y":491},{"t":"x","x":1625,"y":765},{"t":"x","x":850,"y":948}]},"mark":{"type":"text","font":"Liberation Serif","fontWeight":"bold","fontStyle":"italic","fontSize":88,"color":"#6b6b6b","align":"left","baseline":"alphabetic"},"encoding":{"text":{"field":"t"}}},
{"data":{"values":[{"t":"t","x":290,"y":503},{"t":"h","x":375,"y":503},{"t":"h","x":1670,"y":777},{"t":"t","x":895,"y":961}]},"mark":{"type":"text","font":"Liberation Serif","fontWeight":"bold","fontStyle":"italic","fontSize":58,"color":"#6b6b6b","align":"left","baseline":"alphabetic"},"encoding":{"text":{"field":"t"}}}
]
}
